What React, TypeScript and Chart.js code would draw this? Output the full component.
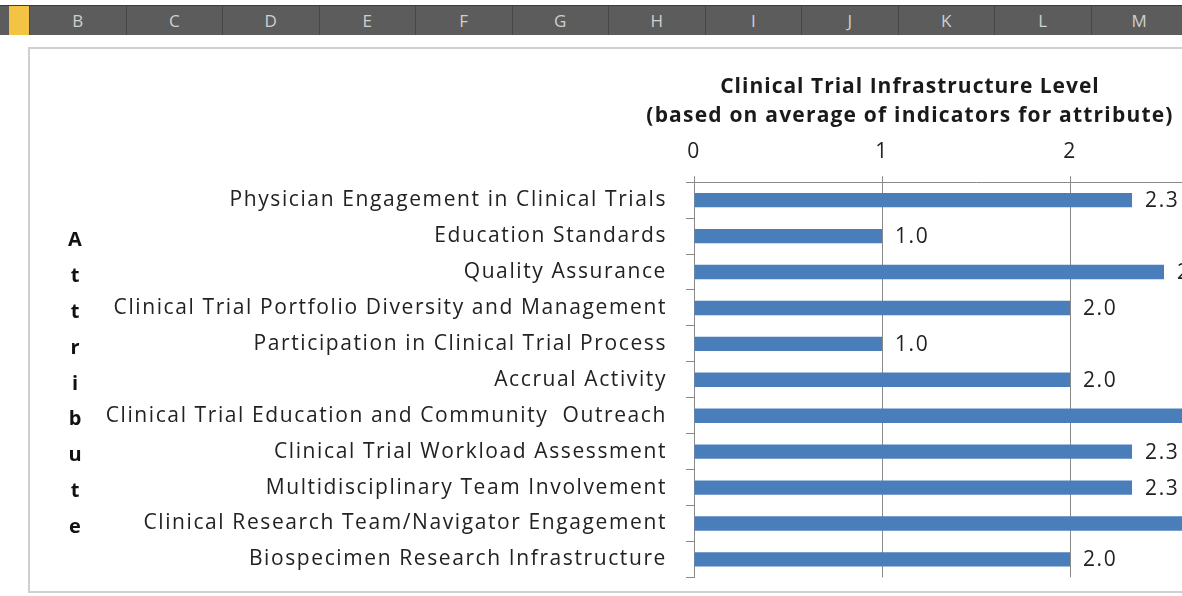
import React, { useEffect, useRef } from "react";
import { Chart, registerables } from "chart.js";

Chart.register(...registerables);

const attributes = [
  "Physician Engagement in Clinical Trials",
  "Education Standards",
  "Quality Assurance",
  "Clinical Trial Portfolio Diversity and Management",
  "Participation in Clinical Trial Process",
  "Accrual Activity",
  "Clinical Trial Education and Community  Outreach",
  "Clinical Trial Workload Assessment",
  "Multidisciplinary Team Involvement",
  "Clinical Research Team/Navigator Engagement",
  "Biospecimen Research Infrastructure",
];
const levels = [2.33, 1.0, 2.5, 2.0, 1.0, 2.0, 2.8, 2.33, 2.33, 2.8, 2.0];
const axisMin = 0;
const axisMax = 3;
const axisStep = 1;
const titleLines = [
  "Clinical Trial Infrastructure Level",
  "(based on average of indicators for attribute)",
];
const verticalAxisTitle = "Attribute";
const sheetColumns = ["B", "C", "D", "E", "F", "G", "H", "I", "J", "K", "L", "M"];

const FONT = "'Open Sans', 'Noto Sans', sans-serif";
const TEXT = "#222222";
const GRID = "#8a8a8a";
const BAR = "#4a7ebb";
const SPACING = "1.6px";

const CANVAS_W = 1762;
const CANVAS_H = 561;

const letterSpacing = {
  id: "letterSpacing",
  beforeUpdate(chart: any) {
    chart.ctx.letterSpacing = SPACING;
  },
  beforeDraw(chart: any) {
    chart.ctx.letterSpacing = SPACING;
  },
};

const centeredTitle = {
  id: "centeredTitle",
  afterDraw(chart: any) {
    const ctx = chart.ctx;
    ctx.save();
    ctx.font = `bold 21px ${FONT}`;
    ctx.fillStyle = "#1a1a1a";
    ctx.textAlign = "center";
    ctx.textBaseline = "middle";
    const spacings = ["1.0px", "1.2px"];
    titleLines.forEach((line, i) => {
      ctx.letterSpacing = spacings[i] || "1.2px";
      ctx.fillText(line, chart.width / 2, 39 + i * 29);
    });
    ctx.restore();
  },
};

const valueLabels = {
  id: "valueLabels",
  afterDatasetsDraw(chart: any) {
    const ctx = chart.ctx;
    const meta = chart.getDatasetMeta(0);
    ctx.save();
    ctx.letterSpacing = SPACING;
    ctx.font = `21px ${FONT}`;
    ctx.fillStyle = TEXT;
    ctx.textAlign = "left";
    ctx.textBaseline = "middle";
    meta.data.forEach((bar: any, i: number) => {
      const v = chart.data.datasets[0].data[i] as number;
      ctx.fillText(v.toFixed(1), bar.x + 13, bar.y + 1);
    });
    ctx.restore();
  },
};

const stackedAxisTitle = {
  id: "stackedAxisTitle",
  afterDraw(chart: any) {
    const ctx = chart.ctx;
    const y = chart.scales.y;
    const step = y.getPixelForValue(1) - y.getPixelForValue(0);
    const mid = (chart.chartArea.top + chart.chartArea.bottom) / 2;
    const letters = verticalAxisTitle.split("");
    const start = mid - ((letters.length - 1) / 2) * step;
    ctx.save();
    ctx.letterSpacing = "0px";
    ctx.font = `bold 20px ${FONT}`;
    ctx.fillStyle = "#111111";
    ctx.textAlign = "center";
    ctx.textBaseline = "middle";
    letters.forEach((ch, i) => {
      ctx.fillText(ch, 46, start + i * step + 4);
    });
    ctx.restore();
  },
};

function ClinicalChart() {
  const ref = useRef<HTMLCanvasElement>(null);
  useEffect(() => {
    if (!ref.current) return;
    const chart = new Chart(ref.current, {
      type: "bar",
      data: {
        labels: attributes,
        datasets: [
          {
            data: levels,
            backgroundColor: BAR,
            borderWidth: 0,
            categoryPercentage: 1,
            barPercentage: 0.4,
          },
        ],
      },
      options: {
        indexAxis: "y",
        animation: false,
        responsive: false,
        devicePixelRatio: 1,
        layout: { padding: { left: 0, right: 533, top: 79, bottom: 2 } },
        plugins: {
          legend: { display: false },
          tooltip: { enabled: false },
          title: { display: false },
        },
        scales: {
          x: {
            position: "top",
            min: axisMin,
            max: axisMax,
            ticks: {
              stepSize: axisStep,
              color: TEXT,
              font: { family: FONT, size: 21 },
              padding: 12,
            },
            grid: { color: GRID, tickLength: 6, lineWidth: 1 },
            border: { color: GRID },
          },
          y: {
            afterFit: (s: any) => {
              s.width = 665;
            },
            ticks: {
              color: TEXT,
              font: { family: FONT, size: 21 },
              padding: 19,
              autoSkip: false,
            },
            grid: {
              drawOnChartArea: false,
              tickLength: 8,
              color: GRID,
              offset: true,
            },
            border: { color: GRID },
          },
        },
      },
      plugins: [letterSpacing, valueLabels, stackedAxisTitle, centeredTitle],
    });
    return () => chart.destroy();
  }, []);
  return (
    <canvas
      ref={ref}
      width={CANVAS_W}
      height={CANVAS_H}
      style={{ position: "absolute", left: 29, top: 48, width: CANVAS_W, height: CANVAS_H }}
    />
  );
}

export default function App() {
  return (
    <div
      style={{
        position: "fixed",
        inset: 0,
        overflow: "hidden",
        background: "#ffffff",
      }}
    >
      <div
        style={{
          position: "absolute",
          left: 0,
          top: 5,
          width: "100%",
          height: 29,
          background: "#5c5c5c",
          borderTop: "1px solid #3c3c3c",
        }}
      >
        <div
          style={{
            position: "absolute",
            left: 9,
            top: 0,
            width: 20,
            height: 29,
            background: "#f3c443",
          }}
        />
        {sheetColumns.map((c, i) => (
          <div
            key={c}
            style={{
              position: "absolute",
              left: 29 + i * 96.5,
              top: 0,
              width: 96.5,
              height: 29,
              borderLeft: "1px solid #474747",
              boxSizing: "border-box",
              color: "#cfcfcf",
              font: `17px ${FONT}`,
              lineHeight: "29px",
              textAlign: "center",
            }}
          >
            {c}
          </div>
        ))}
      </div>
      <div
        style={{
          position: "absolute",
          left: 28,
          top: 47,
          width: 1300,
          height: 546,
          border: "2px solid #cfcfcf",
          boxSizing: "border-box",
        }}
      />
      <ClinicalChart />
    </div>
  );
}
